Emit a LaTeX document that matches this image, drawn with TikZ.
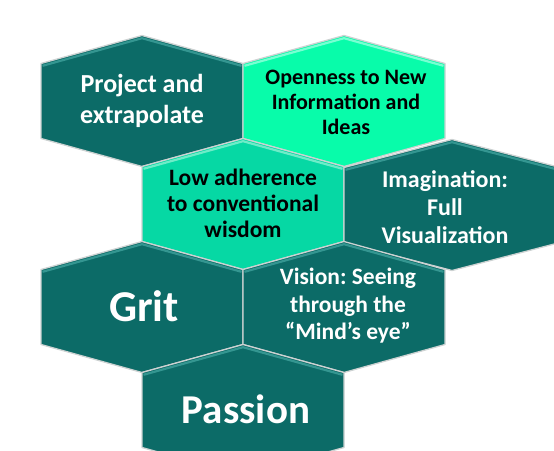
\documentclass[tikz,border=0pt]{standalone}
\usepackage{fontspec}
\setmainfont{Carlito}
\frenchspacing
\definecolor{tealdark}{RGB}{12,107,103}
\definecolor{tealhi}{RGB}{52,150,145}
\definecolor{greenbright}{RGB}{8,252,170}
\definecolor{greenbrighthi}{RGB}{120,255,210}
\definecolor{greenmid}{RGB}{6,216,164}
\definecolor{greenmidhi}{RGB}{110,236,200}
\definecolor{hexedge}{RGB}{205,210,210}
\tikzset{
  hexfill/.style={draw=hexedge, line width=1.3pt, line join=round},
  bevel/.style={line width=2.2pt, line join=round},
  darktext/.style={text=white, font=\bfseries\fontsize{23.5}{27.5}\selectfont, align=center},
  lighttext/.style={text=black, font=\bfseries\fontsize{23.5}{26}\selectfont, align=center},
}
% #1 x, #2 y, #3 half-width, #4 fill, #5 bevel colour
\newcommand\myhex[5]{%
  \filldraw[hexfill, fill=#4] (#1-#3,#2-37.5) -- (#1,#2-65.5) -- (#1+#3,#2-37.5) -- (#1+#3,#2+37.5) -- (#1,#2+65.5) -- (#1-#3,#2+37.5) -- cycle;
  \draw[bevel, #5] (#1-#3+1.5,#2-35.2) -- (#1,#2-62.8) -- (#1+#3-1.5,#2-35.2);
}
\begin{document}
\begin{tikzpicture}[x=1pt,y=-1pt]
\useasboundingbox (0,0) rectangle (554,450);
\clip (0,0) rectangle (554,450);
\myhex{142}{101}{101}{tealdark}{tealhi}
\myhex{344}{101}{101}{greenbright}{greenbrighthi}
\myhex{243}{204}{101}{greenmid}{greenmidhi}
\myhex{452}{205}{108}{tealdark}{tealhi}
\myhex{142}{307}{101}{tealdark}{tealhi}
\myhex{344}{307}{101}{tealdark}{tealhi}
\myhex{243}{410}{101}{tealdark}{tealhi}
\node[darktext, font=\bfseries\fontsize{26}{31}\selectfont] (project) at (142,101) {Project and\\extrapolate};
\node[lighttext, font=\bfseries\fontsize{22}{25}\selectfont] (openness) at (346,102) {Openness to New\\Information and\\Ideas};
\node[lighttext] (adherence) at (243,203) {Low adherence\\to conventional\\wisdom};
\node[darktext, font=\bfseries\fontsize{24}{28}\selectfont] (imagination) at (445,207) {Imagination:\\Full\\Visualization};
\node[darktext, font=\bfseries\fontsize{44}{50}\selectfont] (grit) at (144,306) {Grit};
\node[darktext] (vision) at (348,306) {Vision: Seeing\\through the\\“Mind’s eye”};
\node[darktext, font=\bfseries\fontsize{41}{48}\selectfont] (passion) at (246,409) {Passion};
\end{tikzpicture}
\end{document}
